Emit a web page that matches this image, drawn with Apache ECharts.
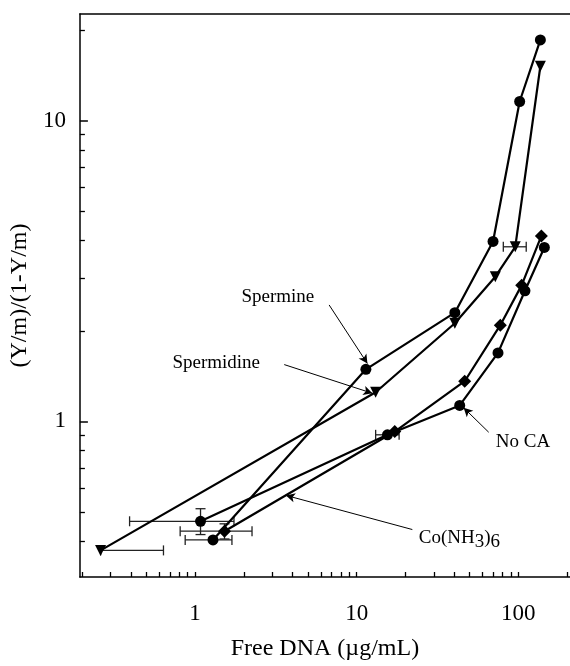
<!DOCTYPE html>
<html>
<head>
<meta charset="utf-8">
<title>Free DNA binding</title>
<script src="https://cdn.jsdelivr.net/npm/echarts@6/dist/echarts.min.js"></script>
<style>
    html, body { margin: 0; padding: 0; background: #fff; }
    #main { width: 570px; height: 666px; }
</style>
</head>
<body>
<div id="main"></div>
<script>
// free DNA (ug/mL) vs (Y/m)/(1-Y/m), one pair of arrays per condition
const spermineX = [1.29, 11.4, 40.5, 69.8, 102, 137];
const spermineY = [0.403, 1.49, 2.30, 3.97, 11.6, 18.6];
const spermidineX = [0.26, 13.1, 40.5, 72.1, 95.8, 137];
const spermidineY = [0.372, 1.25, 2.12, 3.03, 3.81, 15.2];
const noCaX = [1.08, 15.5, 43.4, 74.9, 110, 145];
const noCaY = [0.465, 0.902, 1.13, 1.69, 2.72, 3.79];
const cobaltX = [1.52, 17.2, 46.6, 77.4, 105, 139];
const cobaltY = [0.431, 0.925, 1.36, 2.09, 2.84, 4.14];

// horizontal error bars: [y, low x, high x]
const xErrors = [
    [0.465, 0.393, 1.74],
    [0.431, 0.808, 2.25],
    [0.403, 0.868, 1.69],
    [0.372, 0.26, 0.637],
    [0.902, 13.1, 18.3],
    [3.81, 80.8, 112]
];
// vertical error bars: [x, low y, high y]
const yErrors = [
    [1.08, 0.420, 0.512],
    [1.52, 0.406, 0.456]
];

const xMajor = [1, 10, 100];
const xMinor = [0.2, 0.3, 0.4, 0.5, 0.6, 0.7, 0.8, 0.9, 2, 3, 4, 5, 6, 7, 8, 9,
    20, 30, 40, 50, 60, 70, 80, 90, 200];
const yMajor = [1, 10];
const yMinor = [0.4, 0.5, 0.6, 0.7, 0.8, 0.9, 2, 3, 4, 5, 6, 7, 8, 9, 20];

// text labels with their arrows
const noteText = ['Spermine', 'Spermidine', 'No CA', 'Co(NH{s|3}){s|6}'];
const notePos = [[3.25, 2.59], [1.35, 1.56], [107, 0.855], [43.2, 0.41]];
const arrowFrom = [[6.75, 2.44], [3.56, 1.545], [65.6, 0.92], [22.1, 0.4365]];
const arrowTo = [[11.65, 1.557], [12.5, 1.24], [45.9, 1.11], [3.65, 0.567]];

const xMin = 0.1936, xMax = 209;
const yMin = 0.3034, yMax = 22.68;
const serif = 'Liberation Serif';

const zip = (xs, ys) => xs.map((x, i) => [x, ys[i]]);

function seg(x1, y1, x2, y2) {
    return {
        type: 'line',
        shape: { x1: x1, y1: y1, x2: x2, y2: y2 },
        style: { stroke: '#222', lineWidth: 1.3 }
    };
}

function hBar(params, api) {
    const y = api.value(0);
    const a = api.coord([api.value(1), y]);
    const b = api.coord([api.value(2), y]);
    return {
        type: 'group',
        children: [
            seg(a[0], a[1], b[0], b[1]),
            seg(a[0], a[1] - 5, a[0], a[1] + 5),
            seg(b[0], b[1] - 5, b[0], b[1] + 5)
        ]
    };
}

function vBar(params, api) {
    const x = api.value(0);
    const a = api.coord([x, api.value(1)]);
    const b = api.coord([x, api.value(2)]);
    return {
        type: 'group',
        children: [
            seg(a[0], a[1], b[0], b[1]),
            seg(a[0] - 5, a[1], a[0] + 5, a[1]),
            seg(b[0] - 5, b[1], b[0] + 5, b[1])
        ]
    };
}

function lineSeries(name, xs, ys, symbol, size, rotate) {
    return {
        name: name,
        type: 'line',
        data: zip(xs, ys),
        symbol: symbol,
        symbolRotate: rotate || 0,
        symbolSize: size,
        itemStyle: { color: '#000' },
        lineStyle: { color: '#000', width: 2.2 },
        z: 3
    };
}

const chart = echarts.init(document.getElementById('main'));

chart.setOption({
    animation: false,
    backgroundColor: '#fff',
    grid: { left: 78, top: 14, right: 0, bottom: 83 },
    xAxis: [{
        type: 'log',
        min: xMin,
        max: xMax,
        position: 'bottom',
        axisLine: { lineStyle: { color: '#000', width: 1.5 } },
        axisTick: {
            inside: true, length: 5, customValues: xMajor.concat(xMinor),
            lineStyle: { color: '#000', width: 1.3 }
        },
        axisLabel: {
            customValues: xMajor, color: '#000', fontFamily: serif,
            fontSize: 23, margin: 25
        },
        splitLine: { show: false },
        name: 'Free DNA (\u00b5g/mL)',
        nameLocation: 'middle',
        nameGap: 60,
        nameTextStyle: { color: '#000', fontFamily: serif, fontSize: 24 }
    }, {
        type: 'log',
        min: xMin,
        max: xMax,
        position: 'top',
        axisLine: { lineStyle: { color: '#000', width: 1.5 } },
        axisTick: { show: false },
        axisLabel: { show: false },
        splitLine: { show: false }
    }],
    yAxis: [{
        type: 'log',
        min: yMin,
        max: yMax,
        position: 'left',
        axisLine: { lineStyle: { color: '#000', width: 1.5 } },
        axisTick: {
            inside: true, length: 5, customValues: yMinor,
            lineStyle: { color: '#000', width: 1.3 }
        },
        axisLabel: {
            customValues: yMajor, color: '#000', fontFamily: serif,
            fontSize: 23, margin: 14
        },
        splitLine: { show: false },
        name: '(Y/m)/(1-Y/m)',
        nameLocation: 'middle',
        nameGap: 37,
        nameTextStyle: { color: '#000', fontFamily: serif, fontSize: 24 }
    }, {
        type: 'log',
        min: yMin,
        max: yMax,
        position: 'left',
        axisLine: { show: false },
        axisTick: {
            inside: true, length: 8, customValues: yMajor,
            lineStyle: { color: '#000', width: 1.5 }
        },
        axisLabel: { show: false },
        splitLine: { show: false }
    }],
    series: [
        lineSeries('Spermine', spermineX, spermineY, 'circle', 11),
        lineSeries('Spermidine', spermidineX, spermidineY, 'triangle', 11, 180),
        lineSeries('No CA', noCaX, noCaY, 'circle', 11),
        lineSeries('Co(NH3)6', cobaltX, cobaltY, 'diamond', 13),
        {
            type: 'custom',
            renderItem: hBar,
            data: xErrors,
            encode: { x: [1, 2], y: 0 },
            clip: true,
            z: 2
        },
        {
            type: 'custom',
            renderItem: vBar,
            data: yErrors,
            encode: { x: 0, y: [1, 2] },
            clip: true,
            z: 2
        },
        {
            type: 'scatter',
            silent: true,
            symbolSize: 0,
            itemStyle: { opacity: 1, color: '#000' },
            data: notePos.map((p, i) => ({ value: p, name: noteText[i] })),
            label: {
                show: true,
                position: 'inside',
                formatter: p => p.name,
                color: '#000',
                textBorderWidth: 0,
                fontFamily: serif,
                fontSize: 19,
                rich: {
                    s: {
                        color: '#000', textBorderWidth: 0, fontFamily: serif,
                        fontSize: 19, padding: [9, 0, 0, 0]
                    }
                }
            },
            markLine: {
                silent: true,
                symbol: ['none', 'arrow'],
                symbolSize: [7, 9],
                label: { show: false },
                lineStyle: { color: '#000', width: 1, type: 'solid' },
                data: arrowFrom.map((p, i) => [{ coord: p }, { coord: arrowTo[i] }])
            },
            z: 4
        }
    ]
});
</script>
</body>
</html>
